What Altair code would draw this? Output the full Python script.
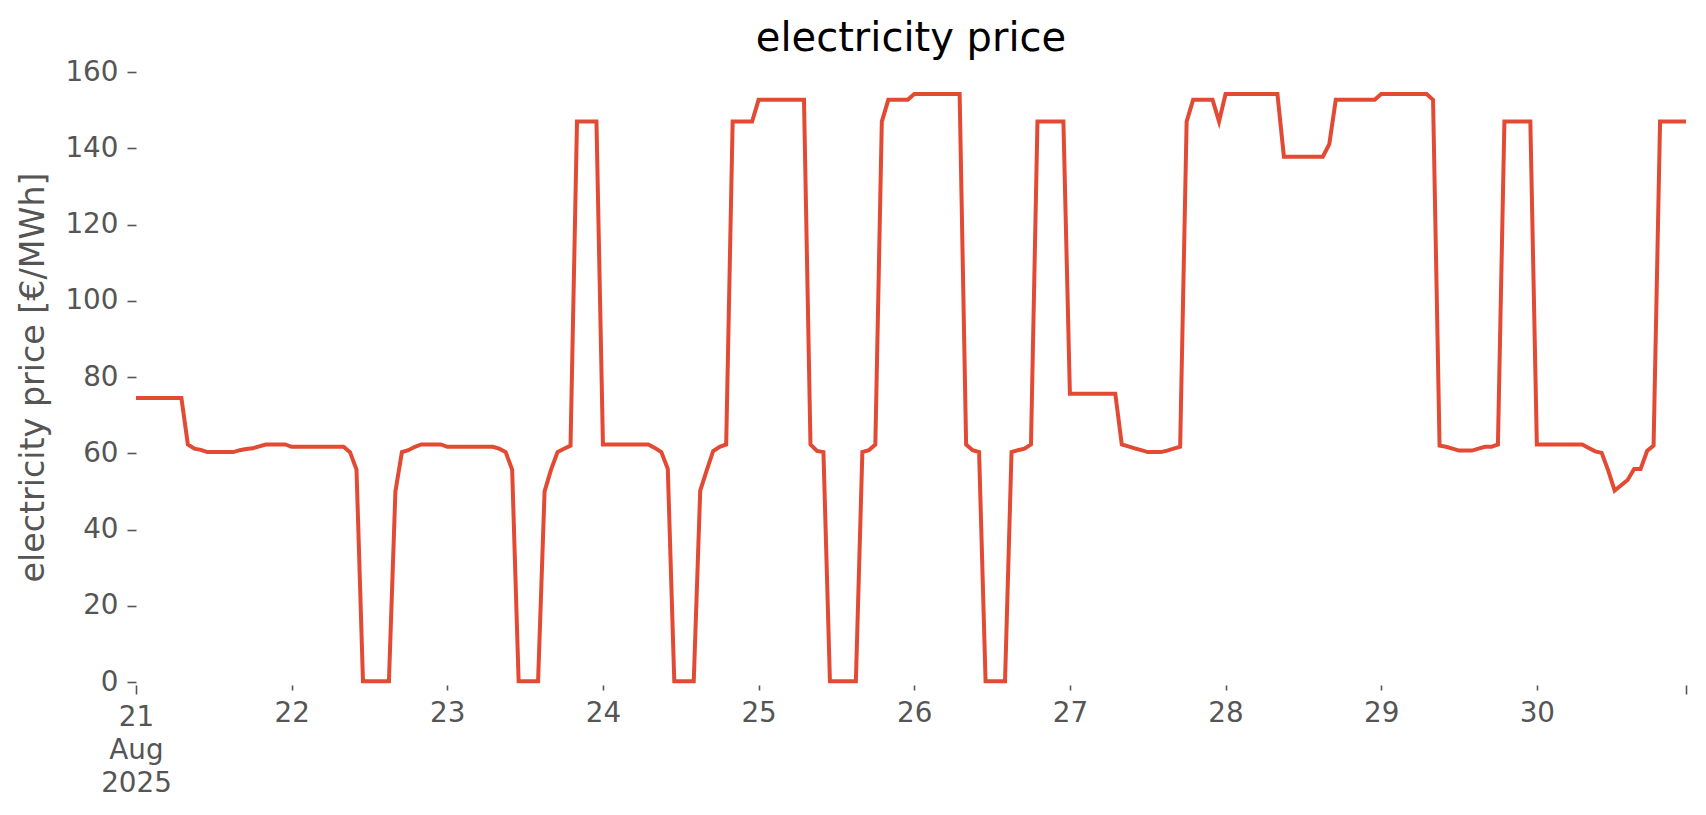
import altair as alt
import pandas as pd

# hourly electricity price [€/MWh], 21-30 Aug 2025
day21 = [74.5, 74.5, 74.5, 74.5, 74.5, 74.5, 74.5, 74.5, 62.3, 61.2, 60.9, 60.3,
         60.3, 60.3, 60.3, 60.3, 60.8, 61.1, 61.3, 61.8, 62.3, 62.3, 62.3, 62.3]
day22 = [61.7, 61.7, 61.7, 61.7, 61.7, 61.7, 61.7, 61.7, 61.7, 60.3, 55.7, 0.2,
         0.2, 0.2, 0.2, 0.2, 50.0, 60.3, 60.8, 61.7, 62.3, 62.3, 62.3, 62.3]
day23 = [61.7, 61.7, 61.7, 61.7, 61.7, 61.7, 61.7, 61.7, 61.2, 60.3, 55.7, 0.2,
         0.2, 0.2, 0.2, 50.0, 55.7, 60.3, 61.2, 62.0, 147.0, 147.0, 147.0, 147.0]
day24 = [62.3, 62.3, 62.3, 62.3, 62.3, 62.3, 62.3, 62.3, 61.4, 60.3, 55.9, 0.2,
         0.2, 0.2, 0.2, 50.2, 55.5, 60.6, 61.7, 62.3, 147.0, 147.0, 147.0, 147.0]
day25 = [152.7, 152.7, 152.7, 152.7, 152.7, 152.7, 152.7, 152.7, 62.3, 60.6, 60.3, 0.2,
         0.2, 0.2, 0.2, 0.2, 60.3, 60.8, 62.3, 147.0, 152.7, 152.7, 152.7, 152.7]
day26 = [154.2, 154.2, 154.2, 154.2, 154.2, 154.2, 154.2, 154.2, 62.3, 60.8, 60.3, 0.2,
         0.2, 0.2, 0.2, 60.3, 60.8, 61.2, 62.3, 147.0, 147.0, 147.0, 147.0, 147.0]
day27 = [75.6, 75.6, 75.6, 75.6, 75.6, 75.6, 75.6, 75.6, 62.3, 61.8, 61.3, 60.8,
         60.3, 60.3, 60.3, 60.7, 61.2, 61.7, 147.0, 152.7, 152.7, 152.7, 152.7, 147.0]
day28 = [154.2, 154.2, 154.2, 154.2, 154.2, 154.2, 154.2, 154.2, 154.2, 137.8, 137.8, 137.8,
         137.8, 137.8, 137.8, 137.8, 141.1, 152.7, 152.7, 152.7, 152.7, 152.7, 152.7, 152.7]
day29 = [154.2, 154.2, 154.2, 154.2, 154.2, 154.2, 154.2, 154.2, 152.7, 62.0, 61.7, 61.2,
         60.7, 60.7, 60.7, 61.2, 61.7, 61.7, 62.3, 147.0, 147.0, 147.0, 147.0, 147.0]
day30 = [62.3, 62.3, 62.3, 62.3, 62.3, 62.3, 62.3, 62.3, 61.4, 60.5, 60.1, 55.5,
         50.2, 51.6, 53.0, 55.9, 55.9, 60.6, 62.0, 147.0, 147.0, 147.0, 147.0, 147.0]

days = [21, 22, 23, 24, 25, 26, 27, 28, 29, 30]
day_prices = [day21, day22, day23, day24, day25, day26, day27, day28, day29, day30]
y_ticks = [0, 20, 40, 60, 80, 100, 120, 140, 160]

rows = []
for d, vals in zip(days, day_prices):
    for h, v in enumerate(vals):
        rows.append({"time": f"2025-08-{d:02d}T{h:02d}:00:00", "price": v})
df = pd.DataFrame(rows)

x_values = [alt.DateTime(year=2025, month=8, date=d, hours=0) for d in days]
x_values.append(alt.DateTime(year=2025, month=8, date=30, hours=23))

FONT = "DejaVu Sans"
GREY = "#555555"

major_test = "hours(datum.value) == 23 || date(datum.value) == 21"

chart = alt.Chart(df).mark_line(color="#E24A33", strokeWidth=4).encode(
    x=alt.X(
        "time:T",
        title=None,
        scale=alt.Scale(domain=[alt.DateTime(year=2025, month=8, date=21, hours=0),
                                alt.DateTime(year=2025, month=8, date=30, hours=23)]),
        axis=alt.Axis(
            values=x_values,
            labelExpr="date(datum.value) == 21 && hours(datum.value) == 0 ? ['21', 'Aug', '2025'] : (hours(datum.value) == 23 ? '' : timeFormat(datum.value, '%-d'))",
            domain=False,
            grid=False,
            offset=3,
            tickSize={"condition": {"test": major_test, "value": 9}, "value": 5},
            tickWidth=1.6,
            tickColor=GREY,
            labelFont=FONT,
            labelFontSize=27.8,
            labelColor=GREY,
            labelPadding=9,
            labelLineHeight=33,
            labelOverlap=False,
            labelFlush=False,
        ),
    ),
    y=alt.Y(
        "price:Q",
        title="electricity price [€/MWh]",
        scale=alt.Scale(domain=[0, 160], nice=False, zero=True),
        axis=alt.Axis(
            values=y_ticks,
            domain=False,
            grid=False,
            tickSize=9,
            tickWidth=1.6,
            tickColor=GREY,
            labelFont=FONT,
            labelFontSize=27.8,
            labelColor=GREY,
            labelPadding=9,
            titleFont=FONT,
            titleFontSize=33.3,
            titleFontWeight="normal",
            titleColor=GREY,
            titleAngle=270,
            titleAlign="center",
            titleBaseline="alphabetic",
            titleX=-93,
            titleY=305,
        ),
    ),
).properties(
    width=1550,
    height=610,
    title=alt.TitleParams(
        "electricity price",
        font=FONT,
        fontSize=40,
        fontWeight="normal",
        color="#000000",
        anchor="middle",
        frame="group",
        baseline="alphabetic",
        offset=20,
        dy=53,
    ),
    autosize=alt.AutoSizeParams(type="none"),
    padding={"left": 128, "top": 64, "right": 12, "bottom": 110},
    background="white",
).configure_view(stroke="transparent")

chart.save("out.html", embed_options={"renderer": "svg", "actions": False})
